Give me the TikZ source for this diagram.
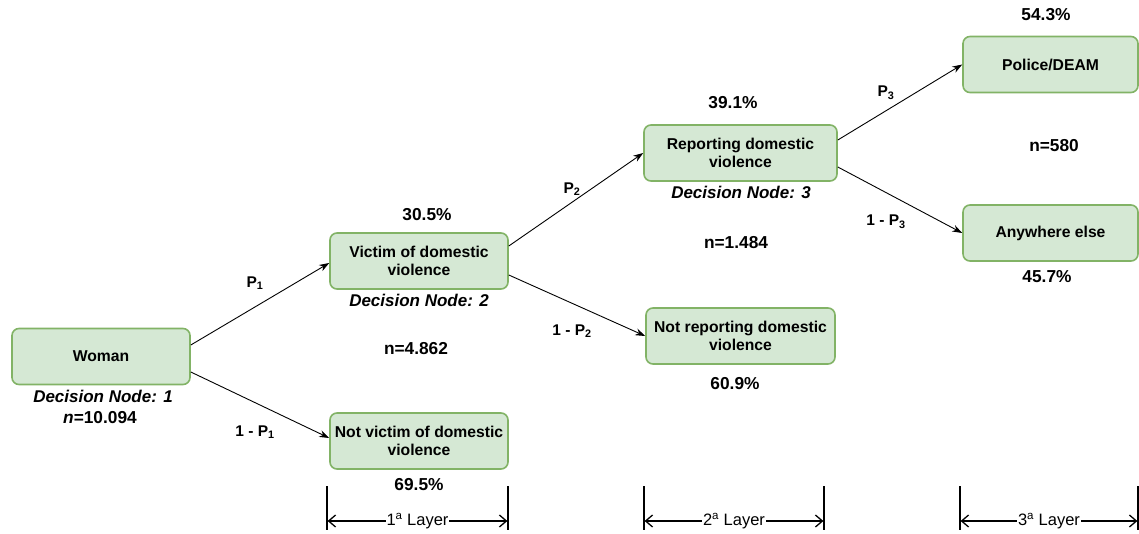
\documentclass[tikz,border=0pt]{standalone}
\usepackage{fontspec}
\setmainfont{Liberation Sans}
\usetikzlibrary{arrows.meta}
\definecolor{boxfill}{HTML}{D5E8D4}
\definecolor{boxline}{HTML}{82B366}
\tikzset{
  box/.style={draw=boxline, fill=boxfill, line width=1.6pt, rounded corners=7pt,
    minimum height=56pt, align=center, font=\fontsize{15.7}{18}\selectfont\bfseries, inner sep=2pt},
  lbl/.style={font=\fontsize{17.3}{19}\selectfont\bfseries, inner sep=1pt},
  plbl/.style={font=\fontsize{15.5}{18}\selectfont\bfseries, inner sep=1pt},
  dn/.style={font=\fontsize{17}{19}\selectfont\bfseries\itshape, inner sep=1pt},
  conn/.style={line width=0.9pt, -{Stealth[length=10pt,width=7pt]}},
  tick/.style={line width=1.3pt},
  layer/.style={line width=1.3pt, {Straight Barb[length=7pt,width=12pt,line width=1.3pt]}-{Straight Barb[length=7pt,width=12pt,line width=1.3pt]}},
  laytxt/.style={font=\fontsize{16.5}{18}\selectfont, fill=white, inner sep=1pt}
}
\begin{document}
\begin{tikzpicture}[x=1pt,y=-1pt]
\useasboundingbox (0,0) rectangle (1139,534);
% boxes
\node[box, minimum width=178pt] (woman) at (101,356.5) {Woman};
\node[box, minimum width=178pt] (victim) at (419,261) {Victim of domestic\\violence};
\node[box, minimum width=178pt] (notvictim) at (419,441) {Not victim of domestic\\violence};
\node[box, minimum width=193pt] (report) at (740.5,153) {Reporting domestic\\violence};
\node[box, minimum width=189pt] (notreport) at (740.5,336) {Not reporting domestic\\violence};
\node[box, minimum width=175pt] (police) at (1050.5,64.5) {Police/DEAM};
\node[box, minimum width=175pt] (anywhere) at (1050.5,233) {Anywhere else};
% labels
\node[dn] (dn1) at (103,396) {Decision Node: 1};
\node[lbl] (n1) at (100,418) {\textit{n}=10.094};
\node[lbl] (pc1) at (427,215) {30.5\%};
\node[dn] (dn2) at (419,300) {Decision Node: 2};
\node[lbl] (n2) at (416,349) {n=4.862};
\node[lbl] (pc2) at (419,485) {69.5\%};
\node[plbl] (p1) at (255,283) {P\textsubscript{1}};
\node[plbl] (q1) at (255,432) {1 - P\textsubscript{1}};
\node[plbl] (p2) at (572,189) {P\textsubscript{2}};
\node[plbl] (q2) at (572,331) {1 - P\textsubscript{2}};
\node[lbl] (pc3) at (733,103) {39.1\%};
\node[dn] (dn3) at (741,192) {Decision Node: 3};
\node[lbl] (n3) at (736,243) {n=1.484};
\node[lbl] (pc4) at (735,384) {60.9\%};
\node[plbl] (p3) at (886,93) {P\textsubscript{3}};
\node[plbl] (q3) at (886,222) {1 - P\textsubscript{3}};
\node[lbl] (pc5) at (1046,15) {54.3\%};
\node[lbl] (n4) at (1054,146) {n=580};
\node[lbl] (pc6) at (1047,277) {45.7\%};
% connectors
\draw[conn] ([yshift=11.5pt]woman.east) -- ([yshift=-2pt]victim.west);
\draw[conn] ([yshift=-15.5pt]woman.east) -- ([yshift=3pt]notvictim.west);
\draw[conn] ([yshift=15pt]victim.east) -- (report.west);
\draw[conn] ([yshift=-14pt]victim.east) -- (notreport.west);
\draw[conn] ([yshift=13pt]report.east) -- (police.west);
\draw[conn] ([yshift=-14pt]report.east) -- (anywhere.west);
% layers
\coordinate (a1) at (327,486); \coordinate (a2) at (327,530);
\coordinate (b1) at (508,486); \coordinate (b2) at (508,530);
\coordinate (c1) at (644,486); \coordinate (c2) at (644,530);
\coordinate (d1) at (824,486); \coordinate (d2) at (824,530);
\coordinate (e1) at (960,486); \coordinate (e2) at (960,530);
\coordinate (f1) at (1138,486); \coordinate (f2) at (1138,530);
\draw[tick] (a1) -- (a2); \draw[tick] (b1) -- (b2);
\draw[tick] (c1) -- (c2); \draw[tick] (d1) -- (d2);
\draw[tick] (e1) -- (e2); \draw[tick] (f1) -- (f2);
\coordinate (la) at (327.6,521); \coordinate (lb) at (507.4,521);
\coordinate (lc) at (644.6,521); \coordinate (ld) at (823.4,521);
\coordinate (le) at (960.6,521); \coordinate (lf) at (1137.4,521);
\draw[layer] (la) -- node[laytxt] (t1) {1\textsuperscript{a} Layer} (lb);
\draw[layer] (lc) -- node[laytxt] (t2) {2\textsuperscript{a} Layer} (ld);
\draw[layer] (le) -- node[laytxt] (t3) {3\textsuperscript{a} Layer} (lf);
\end{tikzpicture}
\end{document}
